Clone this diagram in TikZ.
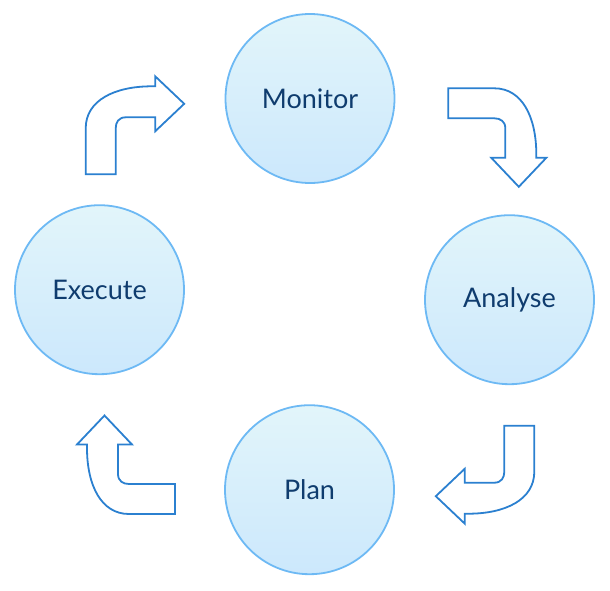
\documentclass[tikz,border=0pt]{standalone}
\usepackage{fontspec}
\setmainfont{Lato}
\definecolor{ringline}{HTML}{6DB9F4}
\definecolor{ringtop}{HTML}{E2F5FA}
\definecolor{ringbot}{HTML}{CCE8FC}
\definecolor{labeltext}{HTML}{0F3C6E}
\definecolor{arrowline}{HTML}{2B80D0}
\tikzset{
  phase/.style={circle, draw=ringline, line width=1.8pt, minimum size=169pt,
    inner sep=0pt, top color=ringtop, bottom color=ringbot, text=labeltext,
    font=\fontsize{27}{32}\selectfont},
  turnarrow/.pic={
    \draw[arrowline, line width=1.8pt, fill=white]
      (0,0) -- (30,0) -- (30,-46) .. controls (30,-52) and (33,-57) .. (40,-57)
      -- (69.5,-57) -- (69.5,-43) -- (98.5,-70.5) -- (69.5,-98) -- (69.5,-88)
      -- (66,-88) .. controls (29,-88) and (0,-74) .. (0,-46) -- cycle;
  }
}
\begin{document}
\begin{tikzpicture}[x=1pt,y=-1pt]
\useasboundingbox (0,0) rectangle (610,590);
% the four phases of the loop
\node[phase] (monitor) at (310,98.5) {Monitor};
\node[phase] (analyse) at (509.5,299.7) {Analyse};
\node[phase] (plan) at (309.5,489.7) {Plan};
\node[phase] (execute) at (99.5,289.7) {Execute};
% bent arrows between them
\pic at (85.7,174.3) {turnarrow};
\pic[rotate=-90] at (448.3,88.3) {turnarrow};
\pic[rotate=180] at (534.3,425.7) {turnarrow};
\pic[rotate=90] at (175,514) {turnarrow};
\end{tikzpicture}
\end{document}
